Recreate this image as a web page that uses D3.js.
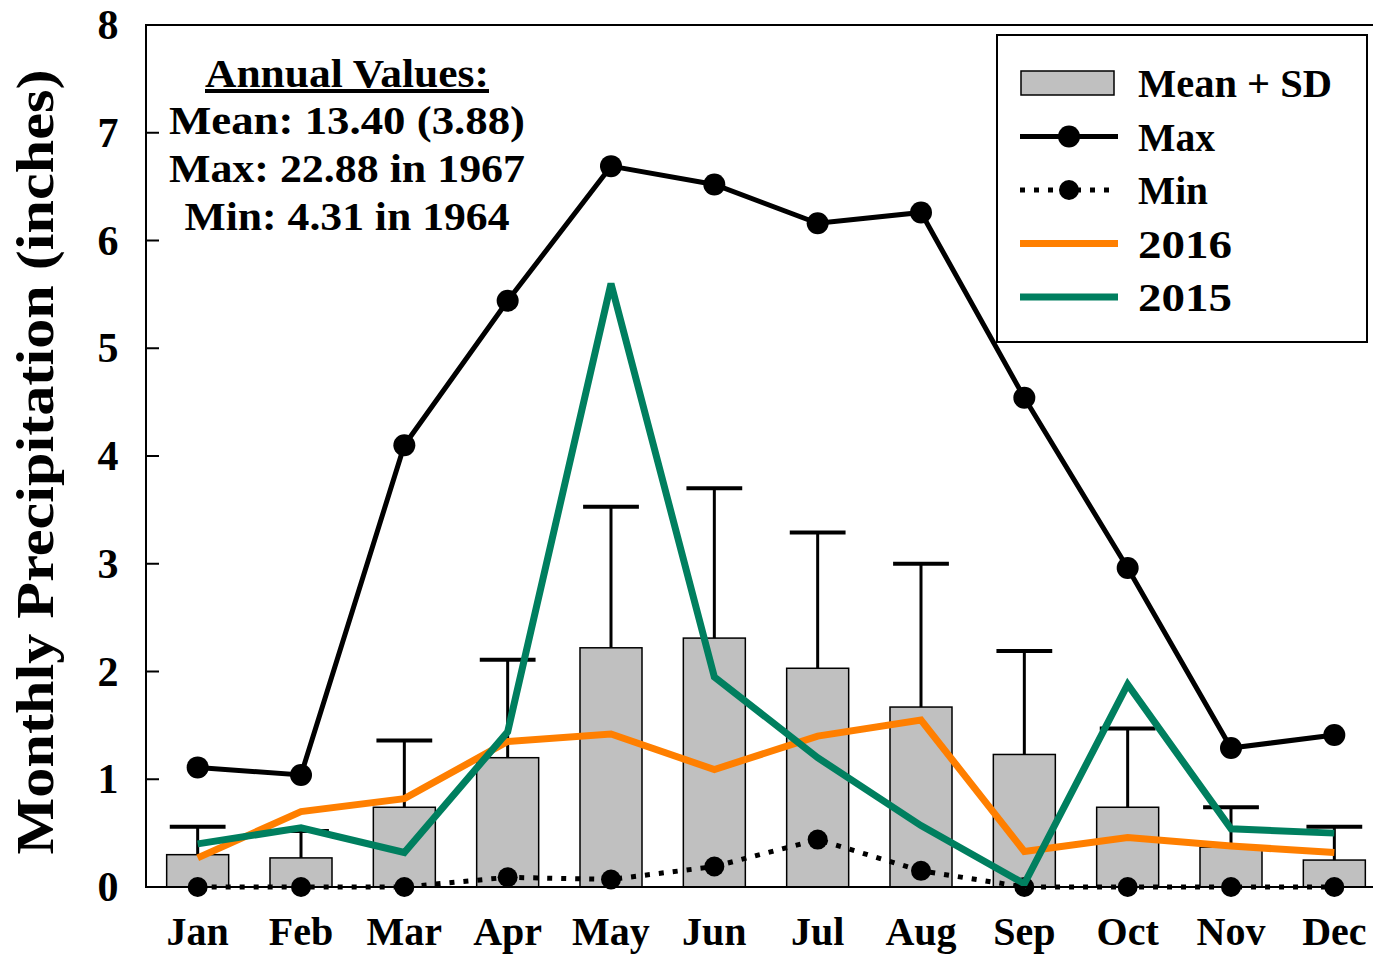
<!DOCTYPE html>
<html>
<head>
<meta charset="utf-8">
<script src="https://cdn.jsdelivr.net/npm/d3@7"></script>
<style>
  body { margin: 0; background: #fff; }
  text { font-family: "Liberation Serif", "DejaVu Serif", serif; font-weight: bold; fill: #000; }
</style>
</head>
<body>
<svg id="chart"></svg>
<script>
// Chart data
const months = ["Jan", "Feb", "Mar", "Apr", "May", "Jun", "Jul", "Aug", "Sep", "Oct", "Nov", "Dec"];
const meanVals = [0.30, 0.27, 0.74, 1.20, 2.22, 2.31, 2.03, 1.67, 1.23, 0.74, 0.37, 0.25];
const meanPlusSd = [0.56, 0.52, 1.36, 2.11, 3.53, 3.70, 3.29, 3.00, 2.19, 1.47, 0.74, 0.56];
const maxVals = [1.11, 1.04, 4.10, 5.44, 6.69, 6.52, 6.16, 6.26, 4.54, 2.96, 1.29, 1.41];
const minVals = [0.00, 0.00, 0.00, 0.09, 0.07, 0.19, 0.44, 0.15, 0.00, 0.00, 0.00, 0.00];
const y2016 = [0.27, 0.70, 0.82, 1.35, 1.42, 1.09, 1.40, 1.55, 0.33, 0.46, 0.38, 0.32];
const y2015 = [0.40, 0.55, 0.32, 1.44, 5.60, 1.95, 1.20, 0.57, 0.03, 1.88, 0.54, 0.50];
const yTicks = [0, 1, 2, 3, 4, 5, 6, 7, 8];
const annualLines = ["Mean: 13.40 (3.88)", "Max: 22.88 in 1967", "Min: 4.31 in 1964"];

const width = 1373, height = 954;
const plotLeft = 146, plotTop = 25, plotBottom = 887, plotRight = 1386;

const svg = d3.select("#chart")
    .attr("width", width)
    .attr("height", height);

const x = d3.scalePoint().domain(months).range([plotLeft, plotRight]).padding(0.5);
const y = d3.scaleLinear().domain([0, 8]).range([plotBottom, plotTop]);
const barW = x.step() * 0.6;

// Bars (mean)
svg.selectAll("rect.bar")
    .data(months)
    .enter()
    .append("rect")
    .attr("class", "bar")
    .attr("x", (d) => x(d) - barW / 2)
    .attr("y", (d, i) => y(meanVals[i]))
    .attr("width", barW)
    .attr("height", (d, i) => y(0) - y(meanVals[i]))
    .attr("fill", "#c0c0c0")
    .attr("stroke", "#000")
    .attr("stroke-width", 1.5);

// Error bars (mean + SD)
const capW = barW * 0.9;
svg.selectAll("line.err")
    .data(months)
    .enter()
    .append("line")
    .attr("x1", (d) => x(d))
    .attr("x2", (d) => x(d))
    .attr("y1", (d, i) => y(meanVals[i]))
    .attr("y2", (d, i) => y(meanPlusSd[i]))
    .attr("stroke", "#000")
    .attr("stroke-width", 3);
svg.selectAll("line.cap")
    .data(months)
    .enter()
    .append("line")
    .attr("x1", (d) => x(d) - capW / 2)
    .attr("x2", (d) => x(d) + capW / 2)
    .attr("y1", (d, i) => y(meanPlusSd[i]))
    .attr("y2", (d, i) => y(meanPlusSd[i]))
    .attr("stroke", "#000")
    .attr("stroke-width", 4);

const line = d3.line().x((d) => x(d[0])).y((d) => y(d[1]));
const zip = (vals) => months.map((m, i) => [m, vals[i]]);

// Max line
svg.append("path")
    .attr("d", line(zip(maxVals)))
    .attr("fill", "none")
    .attr("stroke", "#000")
    .attr("stroke-width", 5);
svg.selectAll("circle.max")
    .data(zip(maxVals))
    .enter()
    .append("circle")
    .attr("cx", (d) => x(d[0]))
    .attr("cy", (d) => y(d[1]))
    .attr("r", 11)
    .attr("fill", "#000");

// Min line (dotted)
svg.append("path")
    .attr("d", line(zip(minVals)))
    .attr("fill", "none")
    .attr("stroke", "#000")
    .attr("stroke-width", 5)
    .attr("stroke-dasharray", "5,9");
svg.selectAll("circle.min")
    .data(zip(minVals))
    .enter()
    .append("circle")
    .attr("cx", (d) => x(d[0]))
    .attr("cy", (d) => y(d[1]))
    .attr("r", 10)
    .attr("fill", "#000");

// 2016 and 2015
svg.append("path")
    .attr("d", line(zip(y2016)))
    .attr("fill", "none")
    .attr("stroke", "#ff7f00")
    .attr("stroke-width", 7);
svg.append("path")
    .attr("d", line(zip(y2015)))
    .attr("fill", "none")
    .attr("stroke", "#007f5f")
    .attr("stroke-width", 7);

// Frame
svg.append("rect")
    .attr("x", plotLeft)
    .attr("y", plotTop)
    .attr("width", plotRight - plotLeft)
    .attr("height", plotBottom - plotTop)
    .attr("fill", "none")
    .attr("stroke", "#000")
    .attr("stroke-width", 2);

// Y axis ticks (inside) and labels
svg.selectAll("line.ytick")
    .data(yTicks)
    .enter()
    .append("line")
    .attr("x1", plotLeft)
    .attr("x2", plotLeft + 13)
    .attr("y1", (d) => y(d))
    .attr("y2", (d) => y(d))
    .attr("stroke", "#000")
    .attr("stroke-width", 2);
svg.selectAll("text.ylab")
    .data(yTicks)
    .enter()
    .append("text")
    .attr("x", 108)
    .attr("y", (d) => y(d) + 14)
    .attr("text-anchor", "middle")
    .attr("font-size", 42)
    .text((d) => d);

// X labels
svg.selectAll("text.xlab")
    .data(months)
    .enter()
    .append("text")
    .attr("x", (d) => x(d))
    .attr("y", 945)
    .attr("text-anchor", "middle")
    .attr("font-size", 40)
    .text((d) => d);

// Y title
svg.append("text")
    .attr("transform", "translate(53,462) rotate(-90)")
    .attr("text-anchor", "middle")
    .attr("font-size", 52)
    .attr("textLength", 785)
    .attr("lengthAdjust", "spacingAndGlyphs")
    .text("Monthly Precipitation (inches)");

// Annual values note
const annualWidths = [356, 356, 325];
svg.append("text")
    .attr("x", 347)
    .attr("y", 87)
    .attr("text-anchor", "middle")
    .attr("font-size", 40)
    .attr("text-decoration", "underline")
    .attr("textLength", 284)
    .attr("lengthAdjust", "spacingAndGlyphs")
    .text("Annual Values:");
svg.selectAll("text.annual")
    .data(annualLines)
    .enter()
    .append("text")
    .attr("x", 347)
    .attr("y", (d, i) => 134 + i * 48)
    .attr("text-anchor", "middle")
    .attr("font-size", 40)
    .attr("textLength", (d, i) => annualWidths[i])
    .attr("lengthAdjust", "spacingAndGlyphs")
    .text((d) => d);

// Legend
const lg = svg.append("g");
lg.append("rect")
    .attr("x", 997).attr("y", 35)
    .attr("width", 370).attr("height", 307)
    .attr("fill", "#fff").attr("stroke", "#000").attr("stroke-width", 2);
const legendItems = [
    { label: "Mean + SD", type: "bar", w: 194 },
    { label: "Max", type: "max", w: 77 },
    { label: "Min", type: "min", w: 70 },
    { label: "2016", type: "line", color: "#ff7f00", w: 94 },
    { label: "2015", type: "line", color: "#007f5f", w: 94 }
];
legendItems.forEach((it, i) => {
    const cy = 83 + i * 53.5;
    if (it.type === "bar") {
        lg.append("rect").attr("x", 1021).attr("y", cy - 12).attr("width", 93).attr("height", 24)
            .attr("fill", "#c0c0c0").attr("stroke", "#000").attr("stroke-width", 1.5);
    } else if (it.type === "max") {
        lg.append("line").attr("x1", 1020).attr("x2", 1118).attr("y1", cy).attr("y2", cy)
            .attr("stroke", "#000").attr("stroke-width", 5);
        lg.append("circle").attr("cx", 1069).attr("cy", cy).attr("r", 11).attr("fill", "#000");
    } else if (it.type === "min") {
        lg.append("line").attr("x1", 1020).attr("x2", 1118).attr("y1", cy).attr("y2", cy)
            .attr("stroke", "#000").attr("stroke-width", 5).attr("stroke-dasharray", "5,9");
        lg.append("circle").attr("cx", 1069).attr("cy", cy).attr("r", 10).attr("fill", "#000");
    } else {
        lg.append("line").attr("x1", 1020).attr("x2", 1118).attr("y1", cy).attr("y2", cy)
            .attr("stroke", it.color).attr("stroke-width", 7);
    }
    lg.append("text").attr("x", 1138).attr("y", cy + 14)
        .attr("font-size", 40)
        .attr("textLength", it.w)
        .attr("lengthAdjust", "spacingAndGlyphs")
        .text(it.label);
});
</script>
</body>
</html>
